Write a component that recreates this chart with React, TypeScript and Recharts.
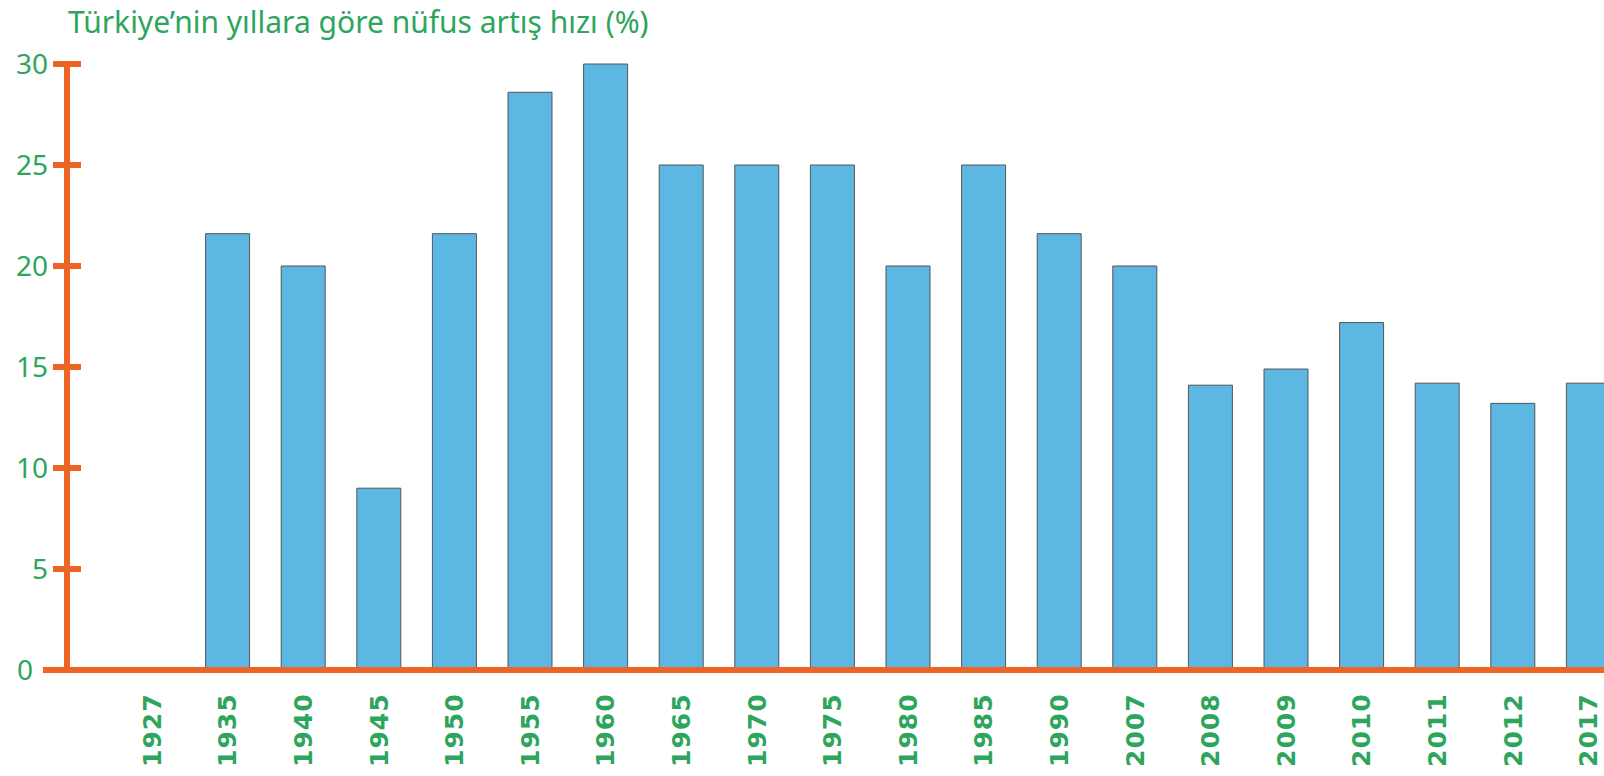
import React from "react";
import { BarChart, Bar, XAxis, YAxis } from "recharts";

const years = ["1927", "1935", "1940", "1945", "1950", "1955", "1960", "1965", "1970", "1975", "1980", "1985", "1990", "2007", "2008", "2009", "2010", "2011", "2012", "2017"];
const rates = [0, 21.6, 20, 9, 21.6, 28.6, 30, 25, 25, 25, 20, 25, 21.6, 20, 14.1, 14.9, 17.2, 14.2, 13.2, 14.2];
const yTicks = [0, 5, 10, 15, 20, 25, 30];
const title = "Türkiye’nin yıllara göre nüfus artış hızı (%)";

const data = years.map((y, i) => ({ year: y, rate: rates[i] }));

const GREEN = "#2EA55C";
const ORANGE = "#EE6424";
const FONT = "'Noto Sans', 'DejaVu Sans', sans-serif";

const YTick = (props: any) => {
  const { x, y, payload } = props;
  const isZero = payload.value === 0;
  return (
    <g>
      <line
        x1={isZero ? x - 24 : x - 14}
        x2={isZero ? x : x + 14}
        y1={y}
        y2={y}
        stroke={ORANGE}
        strokeWidth={6}
      />
      <text
        x={isZero ? x - 34 : x - 19}
        y={y}
        dy="0.36em"
        textAnchor="end"
        fill={GREEN}
        fontSize={28}
        fontFamily={FONT}
      >
        {payload.value}
      </text>
    </g>
  );
};

const XTick = (props: any) => {
  const { x, y, payload } = props;
  const tx = x + 9;
  const ty = y + 97;
  return (
    <text
      x={tx}
      y={ty}
      transform={`rotate(-90 ${tx} ${ty})`}
      textAnchor="start"
      fill={GREEN}
      fontSize={25}
      fontWeight="bold"
      fontFamily="'DejaVu Sans', sans-serif"
      letterSpacing={1}
    >
      {payload.value}
    </text>
  );
};

export default function App() {
  return (
    <div
      style={{
        position: "fixed",
        left: 0,
        top: 0,
        width: 1604,
        height: 776,
        overflow: "hidden",
        background: "#fff",
      }}
    >
      <div
        style={{
          position: "absolute",
          left: 68,
          top: 4,
          fontSize: 30,
          lineHeight: "36px",
          color: GREEN,
          fontFamily: FONT,
          whiteSpace: "nowrap",
        }}
      >
        {title}
      </div>
      <div style={{ position: "absolute", left: 0, top: 0 }}>
        <BarChart
          width={1640}
          height={776}
          data={data}
          margin={{ top: 64, right: 14, bottom: 0, left: 0 }}
          barSize={44}
        >
          <XAxis
            dataKey="year"
            interval={0}
            padding={{ left: 47, right: 0 }}
            axisLine={{ stroke: ORANGE, strokeWidth: 6 }}
            tickLine={false}
            tickSize={0}
            tickMargin={0}
            height={106}
            tick={<XTick />}
          />
          <YAxis
            domain={[0, 30]}
            ticks={yTicks}
            width={67}
            axisLine={{ stroke: ORANGE, strokeWidth: 6 }}
            tickLine={false}
            tickSize={0}
            tickMargin={0}
            tick={<YTick />}
            interval={0}
          />
          <Bar
            dataKey="rate"
            fill="#5DB7E3"
            stroke="#555"
            strokeWidth={1}
            isAnimationActive={false}
          />
        </BarChart>
      </div>
    </div>
  );
}
